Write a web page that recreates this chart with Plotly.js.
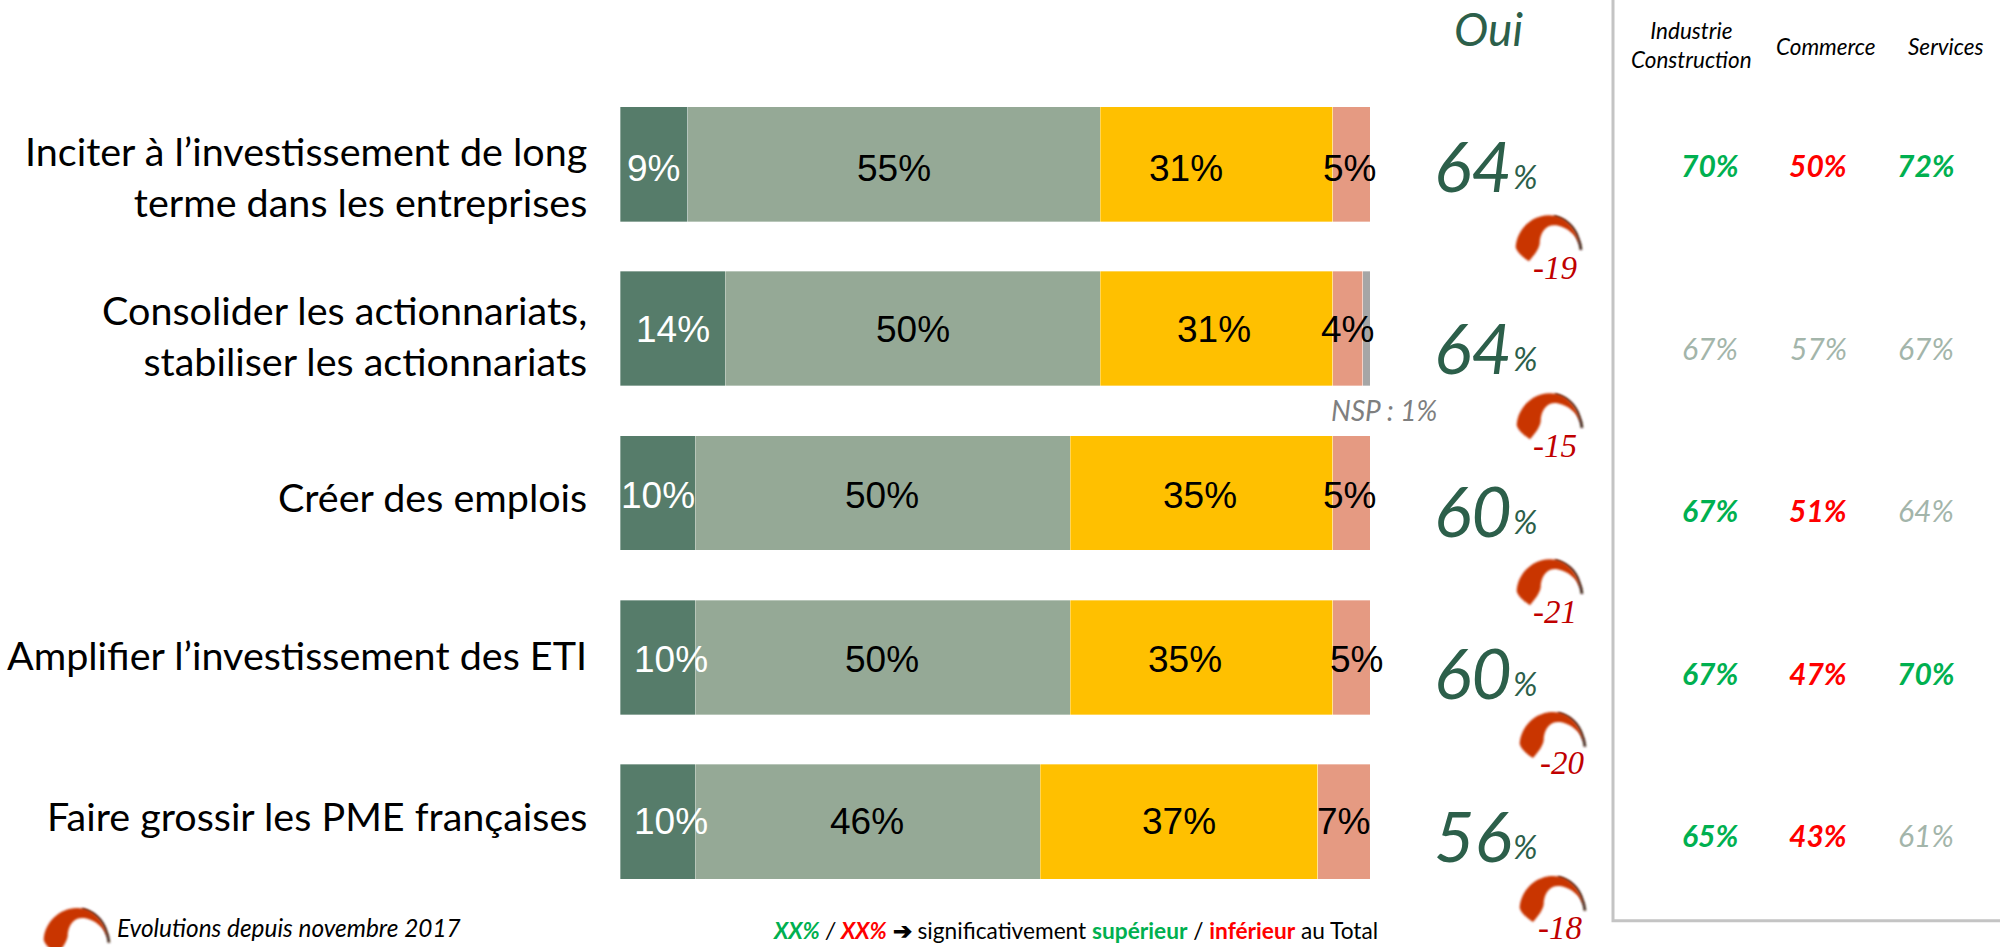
<!DOCTYPE html>
<html lang="fr">
<head>
<meta charset="utf-8">
<script src="https://cdn.plot.ly/plotly-3.0.1.min.js"></script>
<style>html,body{margin:0;padding:0;background:#fff;overflow:hidden}#chart{width:2000px;height:947px}</style>
</head>
<body>
<div id="chart"></div>
<script>
// ---- data ----
const categories = [
  "Inciter à l’investissement de long<br>terme dans les entreprises",
  "Consolider les actionnariats,<br>stabiliser les actionnariats",
  "Créer des emplois",
  "Amplifier l’investissement des ETI",
  "Faire grossir les PME françaises"
];
const ouiTresBien = [9, 14, 10, 10, 10];
const ouiPlutot   = [55, 50, 50, 50, 46];
const nonPlutot   = [31, 31, 35, 35, 37];
const nonPasDuTout= [5, 4, 5, 5, 7];
const nsp         = [0, 1, 0, 0, 0];
const ouiTotal    = [64, 64, 60, 60, 56];
const evolution   = [-19, -15, -21, -20, -18];
const sectors     = ["Industrie<br>Construction", "Commerce", "Services"];
const industrie   = [70, 67, 67, 67, 65];
const commerce    = [50, 57, 51, 47, 43];
const servicesV   = [72, 67, 64, 70, 61];
const industrieSig= ["+", "", "+", "+", "+"];
const commerceSig = ["-", "", "-", "-", "-"];
const servicesSig = ["+", "", "", "+", ""];

// ---- layout helpers ----
const W = 2000, H = 947, L = 620, R = 1370, T = 82, B = 904.3;
const px = x => (x - L) / (R - L);
const py = y => 1 - (y - T) / (B - T);
const SANS = "Lato, 'Noto Sans', sans-serif";
const ARIAL = "'Liberation Sans', Arial, sans-serif";
const SERIF = "'Liberation Serif', serif";
const DARK = "#2C5F4A", GREEN = "#00B050", RED = "#FF0000", GREY = "#A3B5AA", CRIMSON = "#C00000";

const seriesList = [
  {v: ouiTresBien, color: "#567C6A", text: "#FFFFFF", shift: [0, 0, 0, 13, 13]},
  {v: ouiPlutot,   color: "#95A996", text: "#000000", shift: [0, 0, -1, -1, -1]},
  {v: nonPlutot,   color: "#FFC000", text: "#000000", shift: [-30, -2, -1, -16, 0]},
  {v: nonPasDuTout,color: "#E59A82", text: "#000000", shift: [-2, 0, -2, 5, 0]},
  {v: nsp,         color: "#A6A6A6", text: null, shift: []}
];
const rowLabelShift = [12, 6, 3, -3, -6];
const barLabelShift = [4, 1, 2, 2, 0];

const traces = seriesList.map(s => ({
  type: "bar", orientation: "h", x: s.v, y: categories,
  marker: {color: s.color, line: {color: "rgba(255,255,255,0.45)", width: 0.75}},
  hoverinfo: "x+y", showlegend: false
}));

const ann = [];
const add = (x, y, text, size, color, o = {}) => ann.push(Object.assign({
  xref: "paper", yref: "paper", x: px(x), y: py(y), text, showarrow: false,
  xanchor: "center", yanchor: "middle", borderpad: 0, borderwidth: 0,
  font: {family: SANS, size, color}
}, o));

// segment labels sit on the segments, through the x axis
seriesList.forEach(s => {
  if (!s.text) return;
  s.v.forEach((val, i) => {
    const before = seriesList.slice(0, seriesList.indexOf(s)).reduce((a, p) => a + p.v[i], 0);
    ann.push({
      xref: "x", yref: "y", x: before + val / 2, y: categories[i], text: val + "%",
      xshift: s.shift[i], yshift: -barLabelShift[i], showarrow: false, borderpad: 0, borderwidth: 0,
      font: {family: ARIAL, size: 37, color: s.text}
    });
  });
});

// row labels
categories.forEach((c, i) => ann.push({
  xref: "paper", yref: "y", x: px(587), y: c, text: c, yshift: -rowLabelShift[i],
  xanchor: "right", align: "right", showarrow: false, borderpad: 0, borderwidth: 0,
  font: {family: SANS, size: 39.5, color: "#000"}
}));

// Oui column
add(1488, 28, "<i>Oui</i>", 46, DARK);
const ouiY = [165, 347, 510, 672, 835];
ouiTotal.forEach((v, i) => {
  add(1512, ouiY[i], "<i>" + v + "</i>", 70, DARK, {xanchor: "right"});
  add(1513, ouiY[i] + 11, "<i>%</i>", 33, DARK, {xanchor: "left"});
});

// evolutions
const evoX = [1555, 1555, 1555, 1562, 1560];
const evoY = [268, 446, 612, 763, 928];
evolution.forEach((v, i) => add(evoX[i], evoY[i], "<i>" + v + "</i>", 33, CRIMSON, {font: {family: SERIF, size: 33, color: CRIMSON}}));

// sector panel
const secX = [1691, 1826, 1946], secY = [45, 46, 46];
sectors.forEach((s, i) => add(secX[i], secY[i], "<i>" + s + "</i>", 22.5, "#000"));
const colX = [1710, 1818, 1926], rowY = [165, 348, 510, 673, 835];
[[industrie, industrieSig], [commerce, commerceSig], [servicesV, servicesSig]].forEach(([vals, sig], c) => {
  vals.forEach((v, i) => {
    const col = sig[i] === "+" ? GREEN : sig[i] === "-" ? RED : GREY;
    const t = sig[i] ? "<b><i>" + v + "%</i></b>" : "<i>" + v + "%</i>";
    add(colX[c], rowY[i], t, 30, col);
  });
});

add(1384, 410, "<i>NSP : 1%</i>", 28, "#7F7F7F");
add(117, 928, "<i>Evolutions depuis novembre 2017</i>", 24.4, "#000", {xanchor: "left"});
add(1075, 931,
  '<b><i><span style="color:' + GREEN + '">XX%</span></i></b> <i>/</i> <b><i><span style="color:' + RED + '">XX%</span></i></b> <b>➔</b> significativement <b><span style="color:' + GREEN + '">supérieur</span></b> / <b><span style="color:' + RED + '">inférieur</span></b> au Total',
  22.7, "#000");

// swoosh icon used as a pictogram
const iconSvg = '<svg xmlns="http://www.w3.org/2000/svg" viewBox="30 30 240 180" width="240" height="180">' +
  '<defs><filter id="b" x="-20%" y="-20%" width="140%" height="140%"><feGaussianBlur stdDeviation="2.5"/></filter>' +
  '<filter id="c" x="-20%" y="-20%" width="140%" height="140%"><feGaussianBlur stdDeviation="2.5"/></filter></defs>' +
  '<path d="M165 56 C200 62 226 88 236 118 C241 130 245 143 246 156" fill="none" stroke="#3A1A0A" stroke-width="8" filter="url(#c)"/>' +
  '<path d="M90 190 C72 178 55 165 50 148 C52 98 95 52 150 52 C198 52 232 92 242 140 C230 110 205 88 172 82 C142 78 122 102 122 138 C117 160 102 175 90 190 Z" fill="#C93400" filter="url(#b)"/>' +
  '</svg>';
const iconSrc = "data:image/svg+xml;charset=utf-8," + encodeURIComponent(iconSvg);
const iconPos = [[1499, 201], [1500, 379], [1500, 545], [1503, 698], [1503, 862], [27, 894]];
const images = iconPos.map(([x, y]) => ({
  source: iconSrc, xref: "paper", yref: "paper", x: px(x + 10), y: py(y + 7),
  sizex: 80 / (R - L), sizey: 60 / (B - T), xanchor: "left", yanchor: "top", sizing: "stretch", layer: "above"
}));

const layout = {
  width: W, height: H, margin: {l: L, r: W - R, t: T, b: H - B, pad: 0},
  paper_bgcolor: "#fff", plot_bgcolor: "#fff",
  barmode: "stack", bargap: 0.302,
  xaxis: {range: [0, 100], visible: false, fixedrange: true},
  yaxis: {type: "category", categoryorder: "array", categoryarray: categories, autorange: "reversed",
          showticklabels: false, showgrid: false, zeroline: false, ticks: "", fixedrange: true},
  annotations: ann, images,
  shapes: [{type: "path", xref: "paper", yref: "paper",
    path: "M " + px(1613) + " " + py(0) + " L " + px(1613) + " " + py(921) + " L " + px(2000) + " " + py(921),
    line: {color: "#C4C4C4", width: 3}, fillcolor: "rgba(0,0,0,0)"}],
  showlegend: false
};
Plotly.newPlot("chart", traces, layout, {displayModeBar: false, responsive: false});
</script>
</body>
</html>
